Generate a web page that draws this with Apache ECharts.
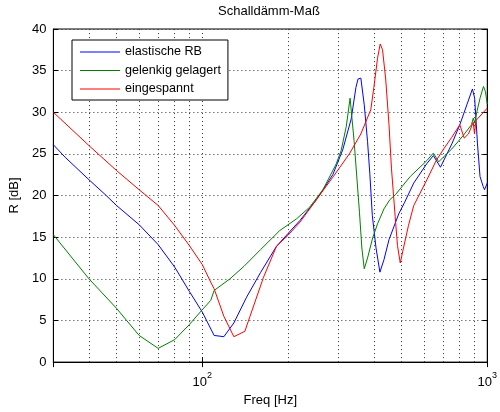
<!DOCTYPE html>
<html><head><meta charset="utf-8">
<script src="https://cdn.jsdelivr.net/npm/echarts/dist/echarts.min.js"></script>
<style>html,body{margin:0;padding:0;background:#fff}#c{width:500px;height:412px}</style>
</head><body><div id="c"></div>
<script>
const titleText = 'Schalldämm-Maß';
const xName = 'Freq [Hz]';
const yName = 'R [dB]';
const seriesNames = ['elastische RB', 'gelenkig gelagert', 'eingespannt'];
const seriesColors = ['#0000ff', '#008000', '#ff0000'];

const blueF = [30, 33, 40, 46, 50, 60, 70, 80, 90, 100, 110, 119, 129, 143, 160, 182, 200, 220, 252, 287, 311, 333, 346, 352, 360, 370, 380, 387, 395, 407, 420, 434, 452, 489, 513, 552, 614, 647, 685, 751, 801, 848, 887, 903, 924, 943, 967, 978, 1000];
const blueR = [26.1, 24.6, 21.9, 20.0, 18.8, 16.5, 14.1, 11.4, 8.5, 6.0, 3.2, 3.05, 4.7, 7.8, 10.75, 13.9, 15.45, 17.0, 19.55, 22.5, 25.5, 29.2, 33.0, 34.0, 34.1, 30.9, 26.5, 22.7, 17.6, 13.7, 10.8, 12.3, 14.7, 17.8, 19.2, 21.5, 23.85, 24.8, 23.4, 26.2, 28.5, 30.9, 32.8, 31.7, 26.2, 22.3, 21.1, 20.7, 21.5];

const greenF = [30, 40, 50, 60, 70, 80, 90, 100, 107, 110, 125, 140, 160, 187, 214, 238, 265, 284, 295, 307, 320, 330, 341, 356, 363, 370, 380, 396, 412, 434, 455, 476, 537, 614, 647, 675, 751, 823, 880, 893, 903, 920, 945, 970, 985, 1000];
const greenR = [15.3, 10.0, 6.45, 3.2, 1.65, 2.7, 4.5, 6.3, 7.4, 8.6, 10.0, 11.5, 13.5, 15.8, 17.2, 18.6, 20.7, 22.7, 23.8, 25.4, 28.3, 31.7, 26.5, 18.0, 13.7, 11.2, 12.5, 14.9, 16.6, 18.4, 19.5, 20.1, 22.3, 24.2, 25.1, 24.05, 25.6, 27.2, 28.5, 29.3, 28.7, 30.1, 31.8, 33.1, 32.5, 31.0];

const redF = [30, 40, 50, 60, 70, 80, 90, 100, 107, 110, 119, 129, 141, 147, 164, 182, 200, 220, 252, 287, 328, 360, 390, 400, 412, 421, 429, 440, 452, 461, 475, 484, 495, 508, 529, 552, 614, 662, 703, 751, 801, 830, 859, 893, 902, 912, 1000];
const redR = [30.0, 26.0, 23.0, 20.7, 18.8, 16.4, 14.0, 11.7, 9.6, 8.8, 5.5, 3.05, 3.7, 5.5, 10.2, 13.9, 15.25, 16.8, 19.55, 22.2, 25.0, 27.4, 30.3, 33.0, 36.5, 38.2, 37.5, 34.0, 28.5, 23.3, 17.5, 14.0, 11.9, 13.7, 16.4, 18.8, 21.9, 24.2, 25.6, 27.0, 28.5, 26.9, 27.4, 28.8, 27.4, 29.0, 30.5];

const xMinorGrid = [40, 50, 60, 70, 80, 90, 200, 300, 400, 500, 600, 700, 800, 900];

const FONT = '"Liberation Sans", Arial, Helvetica, sans-serif';
const zip = (f, r) => f.map((v, i) => [v, r[i]]);
const seriesData = [zip(blueF, blueR), zip(greenF, greenR), zip(redF, redR)];
const gridDot = { color: '#333', type: [1, 3], width: 1 };

const chart = echarts.init(document.getElementById('c'), null, { renderer: 'canvas' });
const option = {
  animation: false,
  backgroundColor: '#fff',
  textStyle: { fontFamily: FONT },
  title: {
    text: titleText, left: 218, top: 5, padding: 0,
    textStyle: { fontSize: 13, fontWeight: 'normal', color: '#000', fontFamily: FONT }
  },
  legend: {
    orient: 'vertical', left: 72, top: 40, padding: [5, 7, 4, 8], itemGap: 4.5,
    icon: 'rect', itemWidth: 40, itemHeight: 1.2, z: 100, zlevel: 0,
    backgroundColor: '#fff', borderColor: '#000', borderWidth: 1,
    textStyle: { fontSize: 12.6, color: '#000', fontFamily: FONT, lineHeight: 14 },
    data: seriesNames
  },
  grid: { left: 53, right: 11, top: 29, bottom: 42, show: true, borderColor: '#000', borderWidth: 1, backgroundColor: '#fff' },
  xAxis: [
    {
      type: 'log', logBase: 10, min: 30, max: 1000, position: 'bottom',
      name: xName, nameLocation: 'middle', nameGap: 28,
      nameTextStyle: { fontSize: 13, color: '#000', fontFamily: FONT },
      axisLine: { lineStyle: { color: '#000' } },
      axisTick: { inside: true, length: 5, lineStyle: { color: '#000' } },
      axisLabel: {
        showMinLabel: false, margin: 6, color: '#000',
        formatter: function (v) {
          const l = Math.log10(v), e = Math.round(l);
          if (Math.abs(l - e) > 1e-6) return '';
          return '{b|10}{s|' + e + '}';
        },
        rich: {
          b: { fontSize: 13, color: '#000', fontFamily: FONT, padding: [8, 0, 0, 0] },
          s: { fontSize: 9, color: '#000', fontFamily: FONT, padding: [0, 0, 6, 0] }
        }
      },
      splitLine: { show: true, lineStyle: gridDot }
    },
    {
      type: 'log', logBase: 10, min: 30, max: 1000, position: 'top',
      axisLine: { lineStyle: { color: '#000' } },
      axisTick: { inside: true, length: 5, lineStyle: { color: '#000' } },
      axisLabel: { show: false }, splitLine: { show: false }
    }
  ],
  yAxis: [
    {
      type: 'value', min: 0, max: 40, interval: 5, position: 'left',
      name: yName, nameLocation: 'middle', nameGap: 22, nameRotate: 90,
      nameTextStyle: { fontSize: 13, color: '#000', fontFamily: FONT },
      axisLine: { show: true, lineStyle: { color: '#000' } },
      axisTick: { show: true, inside: true, length: 5, lineStyle: { color: '#000' } },
      axisLabel: { fontSize: 13, color: '#000', margin: 7, fontFamily: FONT },
      splitLine: { show: true, lineStyle: gridDot }
    },
    {
      type: 'value', min: 0, max: 40, interval: 5, position: 'right',
      axisLine: { show: true, lineStyle: { color: '#000' } },
      axisTick: { show: true, inside: true, length: 5, lineStyle: { color: '#000' } },
      axisLabel: { show: false }, splitLine: { show: false }
    }
  ],
  series: [
    {
      name: '_grid', type: 'line', data: [], silent: true, z: 1,
      markLine: {
        silent: true, symbol: ['none', 'none'], label: { show: false }, z: 1,
        lineStyle: gridDot, emphasis: { disabled: true },
        data: xMinorGrid.map(v => ({ xAxis: v }))
      }
    }
  ].concat(seriesNames.map((n, i) => ({
    name: n, type: 'line', data: seriesData[i], symbol: 'none', showSymbol: false, z: 3,
    lineStyle: { width: 1, color: seriesColors[i] }, itemStyle: { color: seriesColors[i] }
  })))
};
chart.setOption(option);
</script></body></html>
